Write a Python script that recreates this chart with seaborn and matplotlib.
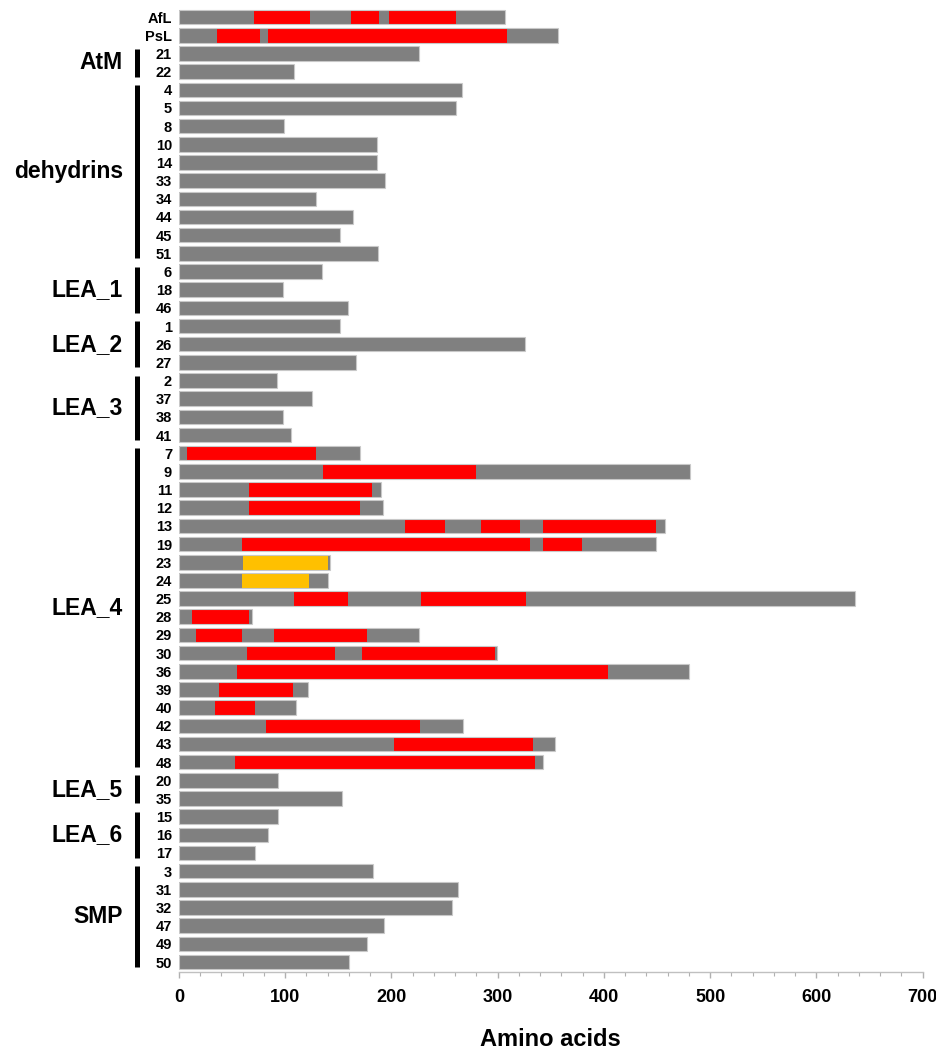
import pandas as pd
import matplotlib.pyplot as plt
from matplotlib.ticker import MultipleLocator
import seaborn as sns

# protein ids, top to bottom, and their group
proteins = ["AfL", "PsL", "21", "22",
            "4", "5", "8", "10", "14", "33", "34", "44", "45", "51",
            "6", "18", "46", "1", "26", "27", "2", "37", "38", "41",
            "7", "9", "11", "12", "13", "19", "23", "24", "25", "28", "29",
            "30", "36", "39", "40", "42", "43", "48",
            "20", "35", "15", "16", "17",
            "3", "31", "32", "47", "49", "50"]
groups = ["", "", "AtM", "AtM"] + ["dehydrins"] * 10 + ["LEA_1"] * 3 + ["LEA_2"] * 3 \
    + ["LEA_3"] * 4 + ["LEA_4"] * 18 + ["LEA_5"] * 2 + ["LEA_6"] * 3 + ["SMP"] * 6

# total length (amino acids)
lengths = [307, 357, 226, 108,
           266, 261, 99, 186, 186, 194, 129, 164, 152, 187,
           135, 98, 159, 152, 326, 167, 92, 125, 98, 105,
           170, 481, 190, 192, 457, 449, 142, 140, 636, 69, 226,
           299, 480, 121, 110, 267, 354, 343,
           93, 153, 93, 84, 72,
           183, 263, 257, 193, 177, 160]

# red domains: (protein, start, end)
red_domains = [("AfL", 71, 123), ("AfL", 162, 188), ("AfL", 198, 261),
               ("PsL", 36, 76), ("PsL", 84, 309),
               ("7", 8, 129), ("9", 136, 280), ("11", 66, 182), ("12", 66, 170),
               ("13", 213, 250), ("13", 284, 321), ("13", 343, 449),
               ("19", 59, 330), ("19", 343, 379),
               ("25", 108, 159), ("25", 228, 327), ("28", 12, 66),
               ("29", 16, 59), ("29", 89, 177), ("30", 64, 147), ("30", 172, 297),
               ("36", 55, 404), ("39", 38, 107), ("40", 34, 72), ("42", 82, 227),
               ("43", 202, 333), ("48", 53, 335)]
# yellow domains
yellow_domains = [("23", 60, 140), ("24", 59, 122)]

sns.set_style("white")
plt.rcParams['font.family'] = ['Liberation Sans', 'DejaVu Sans']
plt.rcParams['text.color'] = 'black'
plt.rcParams['axes.labelcolor'] = 'black'

df = pd.DataFrame({"protein": proteins, "length": lengths, "group": groups})

fig = plt.figure(figsize=(9.36, 10.51), dpi=100)
ax = fig.add_axes([179 / 936, 1 - 972 / 1051, 743.7 / 936, 964 / 1051])

sns.barplot(data=df, x="length", y="protein", order=proteins, color="#808080",
            saturation=1, width=0.8, edgecolor="none", ax=ax)

for dom, col in [(red_domains, "#ff0000"), (yellow_domains, "#ffc000")]:
    for pid, s, e in dom:
        ax.barh(proteins.index(pid), e - s, left=s, height=0.8, color=col, linewidth=0)

# thin light outline round every bar
sns.barplot(data=df, x="length", y="protein", order=proteins, color="#c8c8c8",
            saturation=1, width=0.8, fill=False, linewidth=0.8, ax=ax)

ax.set_xlim(0, 700)
ax.set_ylim(len(proteins) - 1 + 0.55, -0.5)
ax.set_xticks(range(0, 701, 100))
ax.xaxis.set_minor_locator(MultipleLocator(20))
ax.tick_params(axis="x", which="both", direction="out", colors="#b0b0b0",
               labelcolor="black", labelsize=13, pad=8)
ax.tick_params(axis="x", which="major", length=4, width=1, bottom=True)
ax.tick_params(axis="x", which="minor", length=3, width=0.8, bottom=True)
ax.tick_params(axis="y", length=0, labelsize=10.5, pad=5, labelcolor="black")
for lab in ax.get_xticklabels() + ax.get_yticklabels():
    lab.set_fontweight("bold")

for side in ["top", "right", "left"]:
    ax.spines[side].set_visible(False)
ax.spines["bottom"].set_color("#c0c0c0")
ax.spines["bottom"].set_linewidth(1)

ax.set_ylabel("")
ax.set_xlabel("Amino acids", fontsize=17, fontweight="bold", labelpad=16)

# group brackets and names
tr = ax.get_yaxis_transform()
for g in df["group"].unique():
    if not g:
        continue
    idx = df.index[df["group"] == g]
    top, bot = idx.min() - 0.27, idx.max() + 0.27
    ax.plot([-0.0565, -0.0565], [top, bot], color="black", linewidth=3.6,
            solid_capstyle="butt", transform=tr, clip_on=False)
    ax.text(-0.0755, (idx.min() + idx.max()) / 2, g, transform=tr, ha="right",
            va="center", fontsize=16.5, fontweight="bold")

fig.savefig("out.png", dpi=100)
